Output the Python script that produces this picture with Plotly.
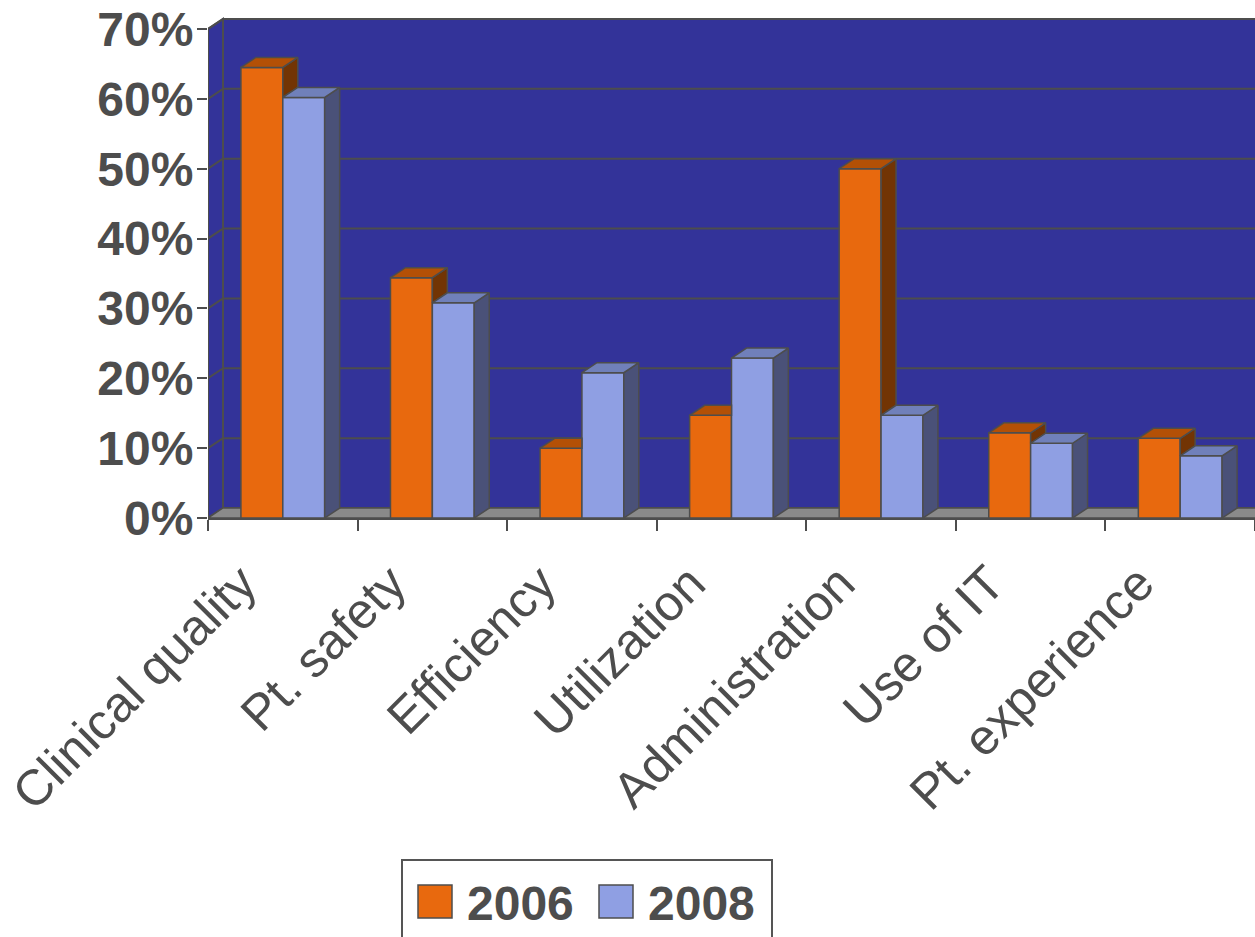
import plotly.graph_objects as go

categories = ["Clinical quality", "Pt. safety", "Efficiency", "Utilization",
              "Administration", "Use of IT", "Pt. experience"]
series_names = ["2006", "2008"]
values_2006 = [64.5, 34.4, 10.0, 14.7, 50.0, 12.2, 11.4]
values_2008 = [60.2, 30.8, 20.8, 22.9, 14.7, 10.7, 8.9]
y_ticks = [0, 10, 20, 30, 40, 50, 60, 70]
y_tick_labels = [f"{v}%" for v in y_ticks]

# styling
W, H = 1255, 937
ML, MR, MT, MB = 208, 0, 15, 419
YMAX = 72
front_cols = ["#E8690E", "#8F9FE3"]
top_cols = ["#B35006", "#7080BA"]
side_cols = ["#723404", "#4A5178"]
wall = "#333399"
floor = "#8A8A8A"
edge = "#4D4D4D"
txt = "#4D4D4D"
FONT = "Liberation Sans, Arial, sans-serif"

n = len(categories)
plot_w = W - ML - MR
plot_h = H - MT - MB
px_x = plot_w / n          # px per category unit
px_y = plot_h / YMAX       # px per percent
DX = 15 / px_x             # depth offset in x (category units)
DY = 10 / px_y             # depth offset in y (percent)
BW = 0.28                  # single bar width (category units)

fig = go.Figure()

# front faces (bars)
for j, (name, vals) in enumerate(zip(series_names, [values_2006, values_2008])):
    fig.add_trace(go.Bar(
        x=categories, y=vals, name=name,
        marker=dict(color=front_cols[j], line=dict(color=edge, width=1.5)),
        showlegend=False, hoverinfo="skip"))

# 3D top / side faces on an overlaid numeric axis
def poly_trace(xs, ys, color):
    return go.Scatter(x=xs, y=ys, xaxis="x2", yaxis="y", mode="lines",
                      fill="toself", fillcolor=color,
                      line=dict(color=edge, width=1.5),
                      showlegend=False, hoverinfo="skip")

for i in range(n):
    v0, v1 = values_2006[i], values_2008[i]
    xl0, xr0 = i - BW, i
    xl1, xr1 = i, i + BW
    # 2006 side face (visible only above the 2008 bar)
    if v0 > v1:
        fig.add_trace(poly_trace([xr0, xr0, xr0 + DX, xr0 + DX, xr0],
                                 [v1, v0, v0 + DY, v1 + DY, v1], side_cols[0]))
        fig.add_trace(poly_trace([xl0, xr0, xr0 + DX, xl0 + DX, xl0],
                                 [v0, v0, v0 + DY, v0 + DY, v0], top_cols[0]))
    else:
        fig.add_trace(poly_trace([xl0, xr0, xr0, xl0 + DX, xl0],
                                 [v0, v0, v0 + DY, v0 + DY, v0], top_cols[0]))
    # 2008 side and top
    fig.add_trace(poly_trace([xr1, xr1, xr1 + DX, xr1 + DX, xr1],
                             [0, v1, v1 + DY, DY, 0], side_cols[1]))
    fig.add_trace(poly_trace([xl1, xr1, xr1 + DX, xl1 + DX, xl1],
                             [v1, v1, v1 + DY, v1 + DY, v1], top_cols[1]))

shapes = []
x_lo, x_hi = -0.5, n - 0.5
# back wall
shapes.append(dict(type="rect", xref="x2", yref="y", layer="below",
                   x0=x_lo + DX, x1=x_hi + DX + 1, y0=DY, y1=70 + DY,
                   fillcolor=wall, line=dict(color=edge, width=2)))
# left side wall
shapes.append(dict(type="path", xref="x2", yref="y", layer="below",
                   path=f"M{x_lo},0 L{x_lo + DX},{DY} L{x_lo + DX},{70 + DY} L{x_lo},70 Z",
                   fillcolor=wall, line=dict(color=edge, width=2)))
# floor
shapes.append(dict(type="path", xref="x2", yref="y", layer="below",
                   path=f"M{x_lo},0 L{x_hi + 1},0 L{x_hi + 1 + DX},{DY} L{x_lo + DX},{DY} Z",
                   fillcolor=floor, line=dict(color=edge, width=1.5)))
# gridlines on back & side wall
for v in y_ticks[1:]:
    shapes.append(dict(type="line", xref="x2", yref="y", layer="below",
                       x0=x_lo + DX, x1=x_hi + DX + 1, y0=v + DY, y1=v + DY,
                       line=dict(color=edge, width=2)))
    shapes.append(dict(type="line", xref="x2", yref="y", layer="below",
                       x0=x_lo, x1=x_lo + DX, y0=v, y1=v + DY,
                       line=dict(color=edge, width=2)))

# manual legend
def pxx(p):
    return (p - ML) / plot_w
def pxy(p):
    return (H - MB - p) / plot_h

shapes.append(dict(type="rect", xref="paper", yref="paper",
                   x0=pxx(402), x1=pxx(772), y0=pxy(975), y1=pxy(860),
                   line=dict(color="#555555", width=2), fillcolor="white"))
annotations = []
leg_sq = [(418, 452), (599, 633)]
leg_tx = [465, 646]
for j in range(2):
    shapes.append(dict(type="rect", xref="paper", yref="paper",
                       x0=pxx(leg_sq[j][0]), x1=pxx(leg_sq[j][1]),
                       y0=pxy(918), y1=pxy(885),
                       fillcolor=front_cols[j], line=dict(color=edge, width=1.5)))
    annotations.append(dict(xref="paper", yref="paper", x=pxx(leg_tx[j]), y=pxy(903),
                            xanchor="left", yanchor="middle", showarrow=False,
                            text=series_names[j],
                            font=dict(family=FONT, size=48, color=txt, weight="bold")))

fig.update_layout(
    width=W, height=H, autosize=False,
    margin=dict(l=ML, r=MR, t=MT, b=MB, pad=0),
    paper_bgcolor="white", plot_bgcolor="white",
    barmode="group", bargap=0.44, bargroupgap=0,
    showlegend=False,
    xaxis=dict(type="category", categoryorder="array", categoryarray=categories,
               range=[x_lo, x_hi], tickson="boundaries", ticks="outside",
               ticklen=11, tickwidth=2, tickcolor=edge,
               showline=True, linecolor=edge, linewidth=2, showgrid=False,
               tickangle=-45, ticklabelshift=-41, ticklabelstandoff=14,
               tickfont=dict(family=FONT, size=50, color=txt)),
    xaxis2=dict(overlaying="x", range=[x_lo, x_hi], visible=False),
    yaxis=dict(range=[0, YMAX], tickvals=y_ticks, ticktext=y_tick_labels,
               ticks="outside", ticklen=10, tickwidth=2, tickcolor=edge,
               showline=False, showgrid=False, zeroline=False,
               ticklabelstandoff=-6,
               tickfont=dict(family=FONT, size=48, color=txt, weight="bold")),
    shapes=shapes, annotations=annotations,
)

fig.write_html("out.html")
